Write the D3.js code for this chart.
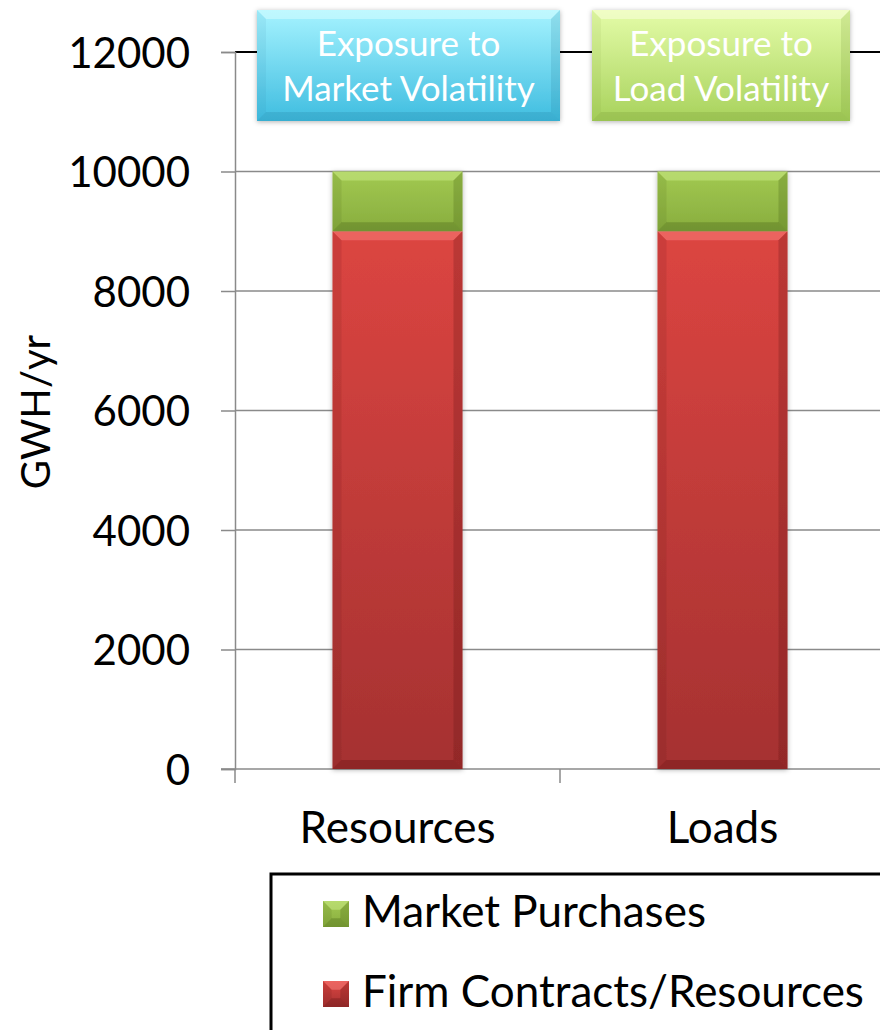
<!DOCTYPE html>
<html><head><meta charset="utf-8">
<script src="https://cdn.jsdelivr.net/npm/d3@7"></script>
<style>html,body{margin:0;padding:0;background:#fff;overflow:hidden}svg{display:block;font-family:Lato,"Open Sans",sans-serif}</style>
</head><body>
<script>
const categories = ["Resources", "Loads"];
const seriesNames = ["Firm Contracts/Resources", "Market Purchases"];
const firmValues = [9000, 9000];
const marketValues = [1000, 1000];
const yTicks = [0, 2000, 4000, 6000, 8000, 10000, 12000];
const yTitle = "GWH/yr";
const boxLabels = [["Exposure to", "Market Volatility"], ["Exposure to", "Load Volatility"]];

const W = 880, H = 1030;
const M = {left: 235, top: 52, bottom: 769, right: 885};
const svg = d3.select("body").append("svg").attr("width", W).attr("height", H);
const defs = svg.append("defs");

function grad(id, c1, c2) {
  const g = defs.append("linearGradient").attr("id", id).attr("x1", 0).attr("y1", 0).attr("x2", 0).attr("y2", 1);
  g.append("stop").attr("offset", "0%").attr("stop-color", c1);
  g.append("stop").attr("offset", "100%").attr("stop-color", c2);
}
grad("gRed", "#dc4541", "#a53131");
grad("gGreen", "#a2c951", "#88ad3e");
grad("gCyan", "#a6f3ff", "#3fbde0");
grad("gLime", "#e4fca8", "#a8d25c");
const f = defs.append("filter").attr("id", "sh").attr("x", "-20%").attr("y", "-20%").attr("width", "140%").attr("height", "140%");
f.append("feDropShadow").attr("dx", 0).attr("dy", 1).attr("stdDeviation", 2.5).attr("flood-color", "#000").attr("flood-opacity", 0.3);

const x = d3.scaleBand().domain(categories).range([M.left, M.right]).paddingInner(0.6).paddingOuter(0.3);
const y = d3.scaleLinear().domain([0, 12000]).range([M.bottom, M.top]);

// gridlines
svg.append("g").selectAll("line").data(yTicks.filter(t => t > 0 && t < 12000)).join("line")
  .attr("x1", M.left).attr("x2", W).attr("y1", d => y(d)).attr("y2", d => y(d))
  .attr("stroke", "#8a8a8a").attr("stroke-width", 1.5);
// top line (black)
svg.append("line").attr("x1", M.left).attr("x2", W).attr("y1", y(12000)).attr("y2", y(12000))
  .attr("stroke", "#000").attr("stroke-width", 2);

// y axis
const ya = svg.append("g").attr("transform", `translate(${M.left},0)`)
  .call(d3.axisLeft(y).tickValues(yTicks).tickSize(14).tickPadding(10).tickFormat(d3.format("d")));
ya.select(".domain").attr("stroke", "#8a8a8a").attr("stroke-width", 1.5);
ya.selectAll(".tick line").attr("stroke", "#8a8a8a").attr("stroke-width", 1.5);
ya.selectAll("text").attr("font-size", 42).attr("font-family", "Lato").attr("fill", "#000").attr("dy", "0.36em").attr("dx", "-21");

// x axis
const xa = svg.append("g").attr("transform", `translate(0,${M.bottom})`);
xa.append("line").attr("x1", M.left - 14).attr("x2", W).attr("stroke", "#8a8a8a").attr("stroke-width", 1.5);
const step = x.step();
const bounds = categories.map((c, i) => M.left + i * step).concat([M.left + categories.length * step]);
xa.selectAll("line.t").data(bounds).join("line").attr("class", "t")
  .attr("x1", d => d).attr("x2", d => d).attr("y1", 0).attr("y2", 14).attr("stroke", "#8a8a8a").attr("stroke-width", 1.5);
xa.selectAll("text").data(categories).join("text")
  .attr("x", d => x(d) + x.bandwidth() / 2).attr("y", 74).attr("text-anchor", "middle")
  .attr("font-size", 44).attr("fill", "#000").text(d => d);

// y title
svg.append("text").attr("transform", `translate(50,412) rotate(-90)`).attr("text-anchor", "middle")
  .attr("font-size", 40).attr("fill", "#000").text(yTitle);

// bars with bevel
function bevelBar(g, x0, w, y0, y1, fillId, light, dark, dOp) {
  const h = y1 - y0, b = Math.min(9, h / 3), k = dOp == null ? 1 : dOp;
  g.append("rect").attr("x", x0).attr("y", y0).attr("width", w).attr("height", h).attr("fill", `url(#${fillId})`);
  g.append("polygon").attr("points", [[x0, y0], [x0 + w, y0], [x0 + w - b, y0 + b], [x0 + b, y0 + b]].join(" ")).attr("fill", light).attr("opacity", 0.45);
  g.append("polygon").attr("points", [[x0, y1], [x0 + w, y1], [x0 + w - b, y1 - b], [x0 + b, y1 - b]].join(" ")).attr("fill", dark).attr("opacity", 0.3 * k);
  g.append("polygon").attr("points", [[x0, y0], [x0 + b, y0 + b], [x0 + b, y1 - b], [x0, y1]].join(" ")).attr("fill", dark).attr("opacity", 0.12 * k);
  g.append("polygon").attr("points", [[x0 + w, y0], [x0 + w - b, y0 + b], [x0 + w - b, y1 - b], [x0 + w, y1]].join(" ")).attr("fill", dark).attr("opacity", 0.25 * k);
}
const bars = svg.append("g");
categories.forEach((c, i) => {
  const g = bars.append("g").attr("filter", "url(#sh)");
  bevelBar(g, x(c), x.bandwidth(), y(firmValues[i]), y(0), "gRed", "#ff8a86", "#5a1010");
  bevelBar(g, x(c), x.bandwidth(), y(firmValues[i] + marketValues[i]), y(firmValues[i]), "gGreen", "#d0f090", "#3e5a10");
});

// annotation boxes
const boxes = [{x: 257, w: 303, fill: "gCyan", light: "#e0ffff", dark: "#1a6a88"}, {x: 592, w: 258, fill: "gLime", light: "#ffffe8", dark: "#5e8020"}];
boxes.forEach((bx, i) => {
  const g = svg.append("g").attr("filter", "url(#sh)");
  bevelBar(g, bx.x, bx.w, 10, 121, bx.fill, bx.light, bx.dark, 0.6);
  const t = svg.append("text").attr("text-anchor", "middle").attr("font-size", 35).attr("fill", "#fff");
  boxLabels[i].forEach((ln, j) => t.append("tspan").attr("x", bx.x + bx.w / 2).attr("y", 56 + j * 45).text(ln));
});

// legend
const lg = svg.append("g");
lg.append("rect").attr("x", 271).attr("y", 874).attr("width", 700).attr("height", 300).attr("fill", "#fff").attr("stroke", "#000").attr("stroke-width", 3);
const legItems = [{name: seriesNames[1], fill: "gGreen", light: "#d0f090", dark: "#3e5a10"}, {name: seriesNames[0], fill: "gRed", light: "#ff8a86", dark: "#5a1010"}];
legItems.forEach((it, i) => {
  const yy = 901 + i * 80;
  const g = lg.append("g");
  bevelBar(g, 323, 26, yy, yy + 26, it.fill, it.light, it.dark);
  lg.append("text").attr("x", 362).attr("y", yy + 26).attr("font-size", 44).attr("fill", "#000").text(it.name);
});
</script>
</body></html>
